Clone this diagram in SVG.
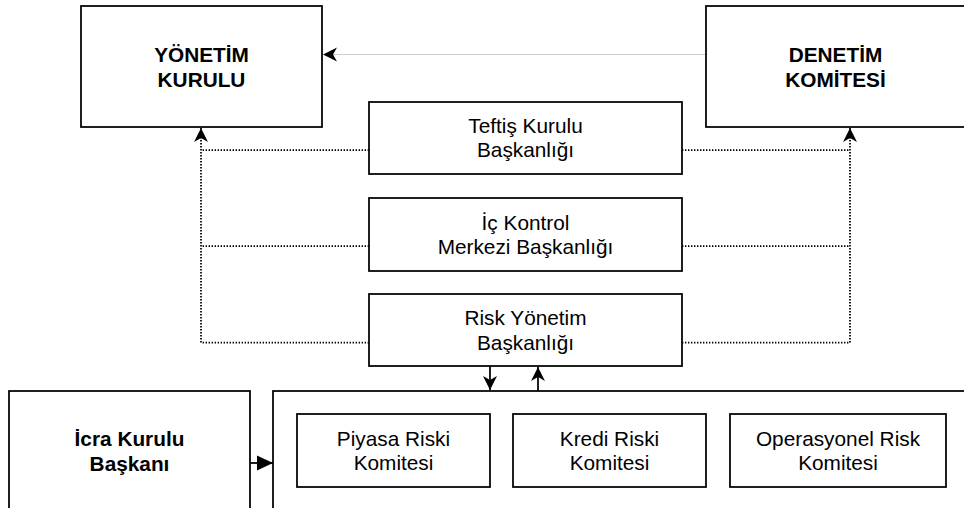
<svg xmlns="http://www.w3.org/2000/svg" width="964" height="508" viewBox="0 0 964 508">
  <style>
    .box { fill: #ffffff; stroke: #000000; stroke-width: 1.75; }
    .lbl { font-family: "Liberation Sans", Arial, sans-serif; font-size: 20.8px; fill: #000000; text-anchor: middle; }
    .bold { font-weight: bold; }
    .dot { fill: none; stroke: #000000; stroke-width: 1.75; stroke-dasharray: 1.4 1.6; }
    .solid { fill: none; stroke: #000000; stroke-width: 1.75; }
    .faint { fill: none; stroke: #cccccc; stroke-width: 1.2; }
  </style>
  <defs>
    <marker id="classic" markerUnits="userSpaceOnUse" markerWidth="16" markerHeight="16" refX="14" refY="7" orient="auto" overflow="visible">
      <path d="M0,0 L14,7 L0,14 L4,7 Z" fill="#000000"/>
    </marker>
    <marker id="block" markerUnits="userSpaceOnUse" markerWidth="17" markerHeight="16" refX="16" refY="7.5" orient="auto" overflow="visible">
      <path d="M0,0 L16,7.5 L0,15 Z" fill="#000000"/>
    </marker>
  </defs>

  <rect width="964" height="508" fill="#ffffff"/>

  <!-- connectors -->
  <g id="connectors">
    <line class="faint" x1="706" y1="54.5" x2="323" y2="54.5" marker-end="url(#classic)"/>
    <!-- left dotted bus to Yönetim Kurulu -->
    <path class="dot" d="M369,150 H201"/>
    <path class="dot" d="M369,246 H201"/>
    <path class="dot" d="M369,342.5 H201 V128" marker-end="url(#classic)"/>
    <!-- right dotted bus to Denetim Komitesi -->
    <path class="dot" d="M682,150 H850"/>
    <path class="dot" d="M682,246 H850"/>
    <path class="dot" d="M682,342.5 H850 V128" marker-end="url(#classic)"/>
    <!-- Risk Yönetim to committees -->
    <line class="solid" x1="490" y1="366" x2="490" y2="390" marker-end="url(#classic)"/>
    <line class="solid" x1="538" y1="391" x2="538" y2="367" marker-end="url(#classic)"/>
    <!-- İcra Kurulu Başkanı to committees -->
    <line class="solid" x1="250" y1="463" x2="273" y2="463" marker-end="url(#block)"/>
  </g>

  <g id="yonetim-kurulu">
    <rect class="box" x="81" y="6" width="241" height="121"/>
    <text class="lbl bold" x="201.5" y="61.5">YÖNETİM</text>
    <text class="lbl bold" x="201.5" y="86.5">KURULU</text>
  </g>

  <g id="denetim-komitesi">
    <rect class="box" x="706" y="6" width="260" height="121"/>
    <text class="lbl bold" x="835.5" y="61.5">DENETİM</text>
    <text class="lbl bold" x="835.5" y="86.5">KOMİTESİ</text>
  </g>

  <g id="teftis-kurulu">
    <rect class="box" x="369" y="102" width="313" height="72"/>
    <text class="lbl" x="525.5" y="132.5">Teftiş Kurulu</text>
    <text class="lbl" x="525.5" y="157">Başkanlığı</text>
  </g>

  <g id="ic-kontrol">
    <rect class="box" x="369" y="198" width="313" height="73"/>
    <text class="lbl" x="525.5" y="229.5">İç Kontrol</text>
    <text class="lbl" x="525.5" y="254">Merkezi Başkanlığı</text>
  </g>

  <g id="risk-yonetim">
    <rect class="box" x="369" y="294" width="313" height="72"/>
    <text class="lbl" x="525.5" y="325">Risk Yönetim</text>
    <text class="lbl" x="525.5" y="349.5">Başkanlığı</text>
  </g>

  <g id="icra-kurulu-baskani">
    <rect class="box" x="9" y="391" width="241" height="150"/>
    <text class="lbl bold" x="129.5" y="446">İcra Kurulu</text>
    <text class="lbl bold" x="129.5" y="470.5">Başkanı</text>
  </g>

  <g id="komiteler">
    <rect class="box" x="273" y="391" width="700" height="150"/>
  </g>

  <g id="piyasa-riski">
    <rect class="box" x="297" y="414" width="193" height="73"/>
    <text class="lbl" x="393.5" y="445.5">Piyasa Riski</text>
    <text class="lbl" x="393.5" y="470">Komitesi</text>
  </g>

  <g id="kredi-riski">
    <rect class="box" x="513" y="414" width="193" height="73"/>
    <text class="lbl" x="609.5" y="445.5">Kredi Riski</text>
    <text class="lbl" x="609.5" y="470">Komitesi</text>
  </g>

  <g id="operasyonel-risk">
    <rect class="box" x="730" y="414" width="216" height="73"/>
    <text class="lbl" x="838" y="445.5">Operasyonel Risk</text>
    <text class="lbl" x="838" y="470">Komitesi</text>
  </g>
</svg>
